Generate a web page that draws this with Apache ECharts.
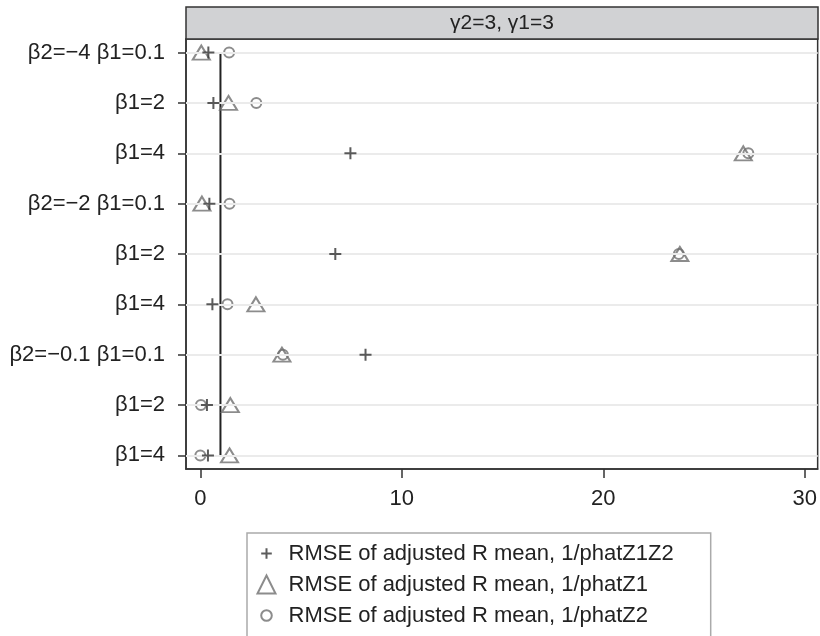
<!DOCTYPE html>
<html>
<head>
<meta charset="utf-8">
<script src="https://cdn.jsdelivr.net/npm/echarts@6/dist/echarts.min.js"></script>
<style>
  html, body { margin: 0; padding: 0; background: #fff; }
  #chart { width: 820px; height: 636px; }
</style>
</head>
<body>
<div id="chart"></div>
<script>
// rows, top to bottom
var rows = ['β2=−4 β1=0.1', 'β1=2', 'β1=4',
            'β2=−2 β1=0.1', 'β1=2', 'β1=4',
            'β2=−0.1 β1=0.1', 'β1=2', 'β1=4'];
var xTicks = [0, 10, 20, 30];
var panelTitle = 'γ2=3, γ1=3';

var seriesNames = [
    'RMSE of adjusted R mean, 1/phatZ1Z2',
    'RMSE of adjusted R mean, 1/phatZ1',
    'RMSE of adjusted R mean, 1/phatZ2'
];
var rmseZ1Z2 = [0.4, 0.65, 7.45, 0.45, 6.7, 0.6, 8.2, 0.33, 0.38];
var rmseZ1   = [0.05, 1.4, 26.95, 0.08, 23.8, 2.76, 4.05, 1.49, 1.45];
var rmseZ2   = [1.43, 2.78, 27.2, 1.45, 23.75, 1.35, 4.1, 0.03, 0.0];
var refX = 1;

var FONT = 'Liberation Sans, Arial, sans-serif';
var PLUS = 'path://M0,5L10,5M5,0L5,10';
// legend icons padded with bare moveTo points so they come out smaller in the box
var PLUS_ICON = 'path://M-3.5,-3.5M13.5,13.5M0,5L10,5M5,0L5,10';
var CIRCLE_ICON = 'path://M-3.5,-3.5M13.5,13.5M10,5A5,5,0,1,1,0,5A5,5,0,1,1,10,5Z';

function toPoints(vals) {
    return vals.map(function (v, i) { return [v, i]; });
}

var rowIdx = rows.map(function (r, i) { return i; });

var chart = echarts.init(document.getElementById('chart'));

chart.setOption({
    animation: false,
    backgroundColor: '#fff',
    grid: {
        left: 186, right: 2, top: 39, bottom: 167,
        show: true,
        borderColor: '#333',
        borderWidth: 1.5
    },
    xAxis: {
        type: 'value',
        min: -0.71,
        max: 30.64,
        axisLine: { show: true, onZero: false, lineStyle: { color: '#333', width: 1.5 } },
        axisTick: { show: true, customValues: xTicks, length: 9, lineStyle: { color: '#333', width: 1.5 } },
        axisLabel: { customValues: xTicks, margin: 19, fontSize: 22, color: '#222', fontFamily: FONT },
        splitLine: { show: false }
    },
    yAxis: {
        type: 'value',
        inverse: true,
        min: -0.27,
        max: 8.27,
        axisLine: { show: true, onZero: false, lineStyle: { color: '#333', width: 1.5 } },
        axisTick: { show: true, customValues: rowIdx, length: 8, lineStyle: { color: '#333', width: 1.5 } },
        axisLabel: {
            customValues: rowIdx,
            margin: 21,
            fontSize: 22,
            color: '#222',
            fontFamily: FONT,
            formatter: function (v) { return rows[Math.round(v)]; }
        },
        splitLine: { show: false }
    },
    legend: {
        orient: 'vertical',
        left: 247,
        top: 533,
        height: 200,
        padding: [9, 37, 40, 8],
        itemGap: 8,
        itemWidth: 18,
        itemHeight: 18,
        borderColor: '#aaa',
        borderWidth: 1.5,
        textStyle: { fontSize: 22, color: '#222', fontFamily: FONT, padding: [0, 0, 0, 8] },
        data: [
            { name: seriesNames[0], icon: PLUS_ICON },
            { name: seriesNames[1] },
            { name: seriesNames[2], icon: CIRCLE_ICON }
        ]
    },
    graphic: [{
        type: 'rect',
        shape: { x: 186, y: 7, width: 632, height: 32 },
        style: { fill: '#d1d2d4', stroke: '#333', lineWidth: 1.5 },
        z: 10
    }, {
        type: 'text',
        x: 502,
        y: 23,
        style: {
            text: panelTitle,
            fontSize: 21,
            fontFamily: FONT,
            fill: '#222',
            align: 'center',
            verticalAlign: 'middle'
        },
        z: 11
    }],
    series: [{
        type: 'line',
        data: rowIdx.map(function (i) { return [i, i]; }),
        silent: true,
        showSymbol: false,
        lineStyle: { width: 0 },
        markLine: {
            silent: true,
            symbol: 'none',
            label: { show: false },
            lineStyle: { color: '#ebebeb', width: 2, type: 'solid' },
            data: rowIdx.map(function (i) { return { yAxis: i }; })
        },
        z: 1
    }, {
        type: 'line',
        data: [[refX, 0], [refX, rows.length - 1]],
        showSymbol: false,
        silent: true,
        lineStyle: { color: '#222', width: 2 },
        z: 2
    }, {
        name: seriesNames[0],
        type: 'scatter',
        symbol: PLUS,
        symbolSize: 12,
        data: toPoints(rmseZ1Z2),
        itemStyle: { color: 'none', borderColor: '#333', borderWidth: 2 },
        z: 5
    }, {
        name: seriesNames[1],
        type: 'scatter',
        symbol: 'triangle',
        symbolSize: [17, 14],
        data: toPoints(rmseZ1),
        itemStyle: { color: 'none', borderColor: '#6f6f6f', borderWidth: 2 },
        z: 4
    }, {
        name: seriesNames[2],
        type: 'scatter',
        symbol: 'circle',
        symbolSize: 10,
        data: toPoints(rmseZ2),
        itemStyle: { color: 'none', borderColor: '#6f6f6f', borderWidth: 2 },
        z: 4
    }]
});
</script>
</body>
</html>
